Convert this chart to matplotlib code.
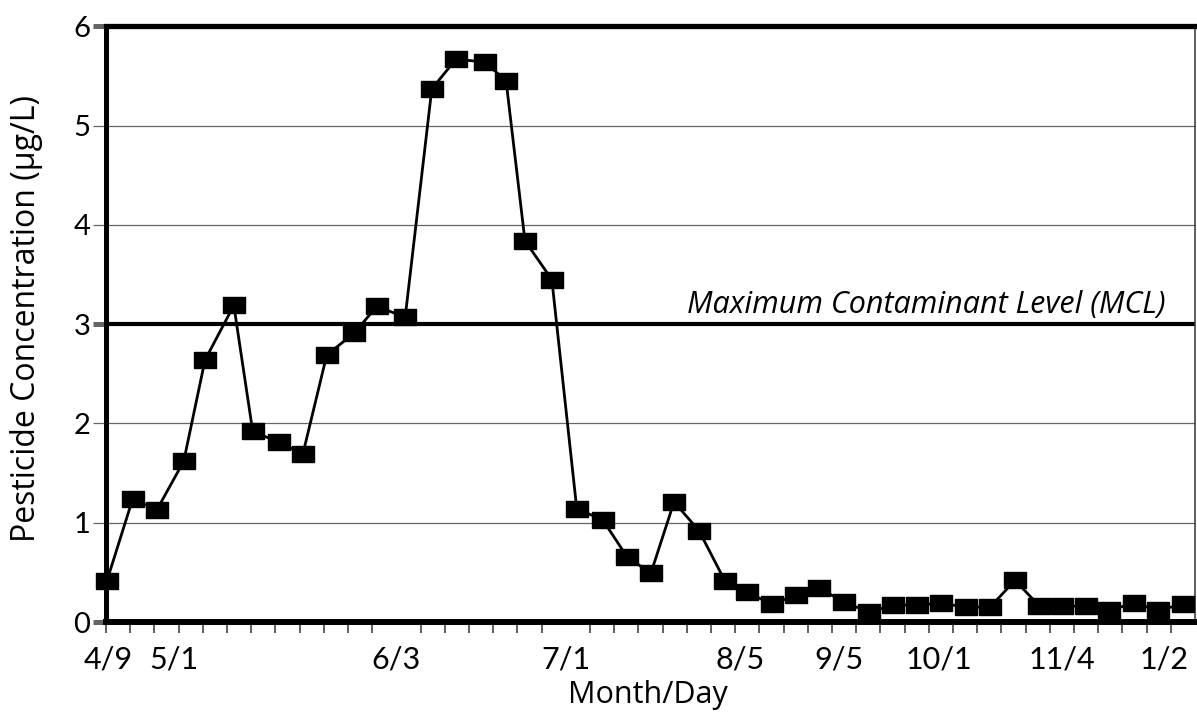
import matplotlib.pyplot as plt

plt.rcParams['font.family'] = ['Lato', 'DejaVu Sans']
FUENTE_TEXTO = ['Open Sans', 'DejaVu Sans']

# Posición de cada muestra (unidades de categoría, el eje tiene 45 divisiones)
muestra_x = [0.03, 1.10, 2.10, 3.21, 4.09, 5.28, 6.06, 7.15, 8.13, 9.12,
             10.25, 11.19, 12.36, 13.46, 14.46, 15.66, 16.53, 17.31, 18.42, 19.45,
             20.52, 21.52, 22.51, 23.47, 24.50, 25.58, 26.48, 27.52, 28.50, 29.48,
             30.50, 31.53, 32.53, 33.52, 34.50, 35.52, 36.53, 37.56, 38.57, 39.49,
             40.50, 41.46, 42.48, 43.48, 44.52]

# Concentración de pesticida (µg/L)
concentracion = [0.41, 1.24, 1.13, 1.62, 2.64, 3.19, 1.92, 1.81, 1.69, 2.69,
                 2.91, 3.18, 3.07, 5.37, 5.67, 5.64, 5.45, 3.84, 3.45, 1.14,
                 1.03, 0.66, 0.49, 1.21, 0.92, 0.41, 0.30, 0.18, 0.27, 0.34,
                 0.20, 0.10, 0.17, 0.17, 0.19, 0.15, 0.15, 0.42, 0.16, 0.16,
                 0.16, 0.12, 0.19, 0.12, 0.18]

etiquetas_fecha = ['4/9', '5/1', '6/3', '7/1', '8/5', '9/5', '10/1', '11/4', '1/2']
pos_etiquetas = [0.09, 2.82, 12.0, 19.0, 26.2, 30.3, 34.4, 39.5, 43.7]

MCL = 3.0
texto_mcl = 'Maximum Contaminant Level (MCL)'

fig = plt.figure(figsize=(11.97, 7.13), dpi=100)
ax = fig.add_axes([0.0886, 0.1276, 0.9098, 0.8354])
ax.set_xlim(0, 45)
ax.set_ylim(0, 6)

# Marcos
for lado, ancho in [('left', 3.6), ('top', 3.8), ('bottom', 4.3)]:
    ax.spines[lado].set_linewidth(ancho)
    ax.spines[lado].set_color('black')
ax.spines['right'].set_linewidth(1.1)
ax.spines['right'].set_color('#333333')

# Eje Y
ax.set_yticks(range(7))
ax.set_yticklabels([str(v) for v in range(7)], fontsize=21)
ax.tick_params(axis='y', length=9.4, width=0.9, color='#666666', pad=2)
for i, tick in enumerate(ax.yaxis.get_major_ticks()):
    if i in (0, 3, 6):
        tick.tick1line.set_markeredgewidth(3.6)
        tick.tick1line.set_color('black')
ax.grid(axis='y', color='#666666', linewidth=0.9)
ax.set_axisbelow(True)

# Eje X
ax.set_xticks(range(45), minor=True)
ax.set_xticks(pos_etiquetas)
ax.set_xticklabels(etiquetas_fecha, fontsize=22)
ax.tick_params(axis='x', which='major', length=0, pad=17)
ax.tick_params(axis='x', which='minor', length=8, width=1.1, color='#333333')

# Nivel máximo de contaminante
ax.axhline(MCL, color='black', linewidth=3, zorder=2)
ax.text(43.76, 3.11, texto_mcl, ha='right', va='baseline', fontsize=22,
        style='italic', family=FUENTE_TEXTO)

# Serie
caja = [(-1, -0.73), (1, -0.73), (1, 0.73), (-1, 0.73), (-1, -0.73)]
ax.plot(muestra_x, concentracion, color='black', linewidth=2,
        marker=caja, markersize=15.8, markerfacecolor='black',
        markeredgecolor='black', clip_on=False, zorder=3)

fig.text(648 / 1197, 1 - 695 / 713, 'Month/Day', ha='center', va='center',
         fontsize=22, family=FUENTE_TEXTO)
fig.text(27 / 1197, 1 - 318 / 713, 'Pesticide Concentration (µg/L)', ha='center',
         va='center', rotation=90, fontsize=23, family=FUENTE_TEXTO)

fig.savefig('out.png', dpi=100)
